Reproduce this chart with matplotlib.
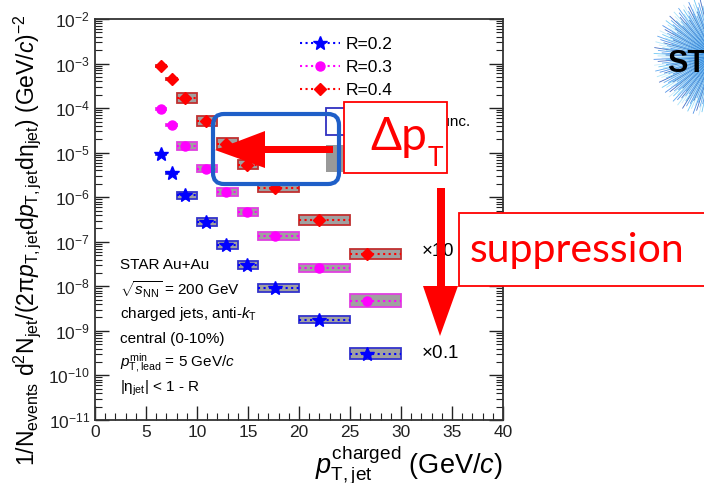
import numpy as np
import matplotlib
matplotlib.use('Agg')
import matplotlib.pyplot as plt
from matplotlib.patches import Rectangle, Polygon, FancyBboxPatch
from matplotlib.lines import Line2D
from matplotlib.ticker import LogLocator, MultipleLocator, NullFormatter
from matplotlib.transforms import IdentityTransform

plt.rcParams['font.family'] = ['Liberation Sans', 'DejaVu Sans']
plt.rcParams['mathtext.fontset'] = 'custom'
plt.rcParams['mathtext.rm'] = 'Liberation Sans'
plt.rcParams['mathtext.it'] = 'Liberation Sans:italic'
plt.rcParams['mathtext.bf'] = 'Liberation Sans:bold'

# jet pT bins (GeV/c) and mean pT inside each bin
bin_lo = [6, 7, 8, 10, 12, 14, 16, 20, 25]
bin_hi = [7, 8, 10, 12, 14, 16, 20, 25, 30]
pt_mean = [6.5, 7.5, 8.8, 10.9, 12.8, 14.9, 17.6, 22.0, 26.7]

# per-event yields (R=0.4 scaled x10, R=0.2 scaled x0.1)
yield_r02 = [9.3e-6, 3.5e-6, 1.1e-6, 2.8e-7, 8.5e-8, 3.0e-8, 9.3e-9, 1.8e-9, 3.1e-10]
yield_r03 = [9.5e-5, 4.2e-5, 1.4e-5, 4.4e-6, 1.3e-6, 4.7e-7, 1.35e-7, 2.6e-8, 4.8e-9]
yield_r04 = [9.0e-4, 4.5e-4, 1.7e-4, 5.1e-5, 1.6e-5, 5.4e-6, 1.6e-6, 3.1e-7, 5.4e-8]

# relative systematic uncertainties
sys_r02 = [0.05, 0.05, 0.22, 0.22, 0.22, 0.22, 0.22, 0.22, 0.35]
sys_r03 = [0.05, 0.05, 0.22, 0.22, 0.25, 0.22, 0.22, 0.25, 0.38]
sys_r04 = [0.05, 0.05, 0.30, 0.30, 0.30, 0.28, 0.25, 0.30, 0.30]

series = [
    ('R=0.2', yield_r02, sys_r02, '#0000ff', '#3333cc', '*', 10),
    ('R=0.3', yield_r03, sys_r03, '#ff00ff', '#e040e0', 'o', 6.5),
    ('R=0.4', yield_r04, sys_r04, '#ff0000', '#c03030', 'D', 6),
]

W, H = 704, 483
fig = plt.figure(figsize=(W / 100, H / 100), dpi=100)
ax = fig.add_axes([95 / W, 1 - 420 / H, (503 - 95) / W, (420 - 19) / H])

lo = np.array(bin_lo, dtype=float)
hi = np.array(bin_hi, dtype=float)
x = np.array(pt_mean)
handles = []
for label, yv, sv, col, edge, mk, ms in series:
    yv = np.array(yv)
    sv = np.array(sv)
    for i in range(len(yv)):
        f = 1 + sv[i]
        ax.add_patch(Rectangle((lo[i], yv[i] / f), hi[i] - lo[i], yv[i] * f - yv[i] / f,
                               facecolor='#a0a0a0', edgecolor=edge, lw=1.3, zorder=2))
    eb = ax.errorbar(x, yv, xerr=[x - lo, hi - x], fmt=mk, color=col, ms=ms,
                     ecolor=col, elinewidth=1.5, capsize=0, zorder=3)
    eb[2][0].set_linestyle(':')
    handles.append(Line2D([], [], color=col, ls=':', lw=1.5, marker=mk, ms=ms))

ax.set_xlim(0, 40)
ax.set_yscale('log')
ax.set_ylim(1e-11, 1e-2)
ax.xaxis.set_major_locator(MultipleLocator(5))
ax.xaxis.set_minor_locator(MultipleLocator(1))
ax.yaxis.set_major_locator(LogLocator(base=10, numticks=20))
ax.yaxis.set_minor_locator(LogLocator(base=10, subs=np.arange(2, 10), numticks=200))
ax.yaxis.set_minor_formatter(NullFormatter())
ax.tick_params(which='both', direction='in', top=False, right=True, labelsize=12.5, colors='#222222')
ax.tick_params(which='major', length=10, width=1.0)
ax.tick_params(which='minor', length=5, width=0.8)
for s in ax.spines.values():
    s.set_linewidth(1.3)
    s.set_color('#333333')

ax.set_xlabel(r'$p_{\mathrm{T,jet}}^{\mathrm{charged}}$ (GeV/$c$)', fontsize=19.5, ha='right')
ax.xaxis.set_label_coords(1.0, -0.058)
ax.set_ylabel(r'$\mathrm{1/N_{events}\ d^2N_{jet}/(2\pi}p_{\mathrm{T,jet}}\mathrm{d}p_{\mathrm{T,jet}}'
              r'\mathrm{d\eta_{jet}})$ (GeV/$c$)$^{-2}$', fontsize=16.5)
ax.yaxis.set_label_coords(-0.128, 0.45)

leg = ax.legend(handles, [s[0] for s in series], loc='upper left', bbox_to_anchor=(0.465, 0.995),
                frameon=False, fontsize=12.5, handlelength=2.3, handletextpad=0.3, labelspacing=0.45)

# systematic-uncertainty legend boxes
ax.add_patch(Rectangle((0.566, 0.711), 0.05, 0.067, transform=ax.transAxes,
                       facecolor='none', edgecolor='#3030c0', lw=1.3, zorder=4))
ax.add_patch(Rectangle((0.566, 0.618), 0.05, 0.068, transform=ax.transAxes,
                       facecolor='#999999', edgecolor='none', zorder=4))
ax.text(0.919, 0.743, 'syst. unc.', transform=ax.transAxes, fontsize=11, ha='right', va='center')

info = ['STAR Au+Au',
        r'$\sqrt{s_{\mathrm{NN}}}$ = 200 GeV',
        r'charged jets, anti-$k_{\mathrm{T}}$',
        'central (0-10%)',
        r'$p_{\mathrm{T,lead}}^{\mathrm{min}}$ = 5 GeV/$c$',
        r'|$\mathrm{\eta_{jet}}$| < 1 - R']
for k, t in enumerate(info):
    ax.text(0.061, 0.387 - 0.0614 * k, t, transform=ax.transAxes, fontsize=11, va='center')

ax.text(0.799, 0.419, r'$\times$10', transform=ax.transAxes, fontsize=13.5, va='center')
ax.text(0.799, 0.165, r'$\times$0.1', transform=ax.transAxes, fontsize=13.5, va='center')


# overlay drawn in pixel coordinates measured from the top-left corner
def px(xp, yp):
    return (xp, H - yp)


def add(p):
    p.set_transform(IdentityTransform())
    p.set_zorder(10)
    fig.add_artist(p)


red = '#ff0000'
add(FancyBboxPatch(px(213, 184), 126, 70, boxstyle='round,pad=0,rounding_size=11',
                   facecolor='none', edgecolor='#1f5fc8', lw=3))
add(Polygon([px(333, 146), px(265, 146), px(265, 131), px(215, 150), px(265, 168),
             px(265, 153), px(333, 153)], closed=True, facecolor=red, edgecolor='none'))
add(Polygon([px(437, 188), px(445, 188), px(445, 286), px(458, 286), px(440, 336),
             px(423, 286), px(437, 286)], closed=True, facecolor=red, edgecolor='none'))
add(Rectangle(px(344, 173), 103, 71, facecolor='white', edgecolor=red, lw=1.3))
add(Rectangle(px(459, 286), 260, 73, facecolor='white', edgecolor=red, lw=1.3))

fig.text(370 / W, 1 - 150 / H, 'Δp', color=red, fontsize=33, family='Lato', zorder=11)
fig.text(428 / W, 1 - 166 / H, 'T', color=red, fontsize=19, family='Lato', zorder=11)
fig.text(470 / W, 1 - 262 / H, 'suppression', color=red, fontsize=29.5, family='Lato', zorder=11)

# STAR logo burst, cut by the right edge
cx, cy = 714, 57
ang = np.linspace(0, 2 * np.pi, 320, endpoint=False)
blues = ['#1a6fe0', '#3fb6f0', '#0a3fb0', '#8fdcf8', '#2a8ae8', '#b8e6fa']
for k, a in enumerate(ang):
    r = 44 + 16 * ((k * 7) % 5) / 4
    ln = Line2D([cx, cx + r * np.cos(a)], [H - cy, H - cy + r * np.sin(a)],
                color=blues[k % 6], lw=0.6, alpha=0.75)
    add(ln)
fig.text(667 / W, 1 - 72 / H, 'STAR', fontsize=22, weight='bold', color='black', zorder=12)

fig.savefig('out.png', dpi=100)
